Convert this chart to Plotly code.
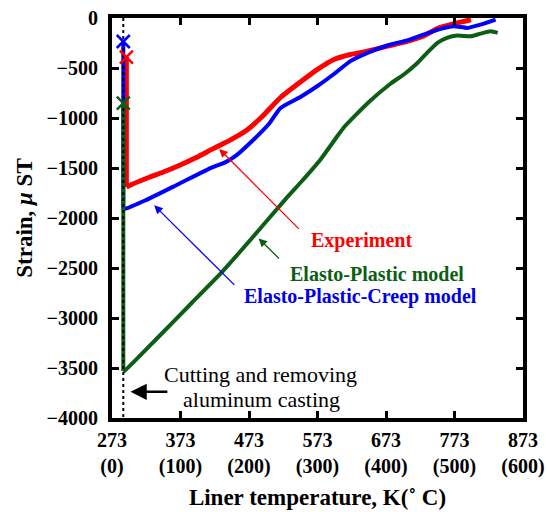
import plotly.graph_objects as go

# ---- data (temperature K, strain micro-strain) ----
exp_T = [294, 294, 300, 322, 348, 371, 396, 420, 444, 468, 490, 519, 548, 573, 597, 621, 646, 675, 704, 728, 748, 772, 797]
exp_S = [-391, -1690, -1670, -1607, -1540, -1475, -1395, -1309, -1226, -1130, -1000, -795, -640, -514, -415, -365, -332, -282, -233, -180, -105, -57, -17]

epc_T = [289.5, 289.5, 293, 322, 371, 420, 439, 454, 478, 502, 519, 548, 573, 597, 621, 646, 675, 704, 728, 753, 772, 792, 811, 833]
epc_S = [-235, -1906, -1906, -1823, -1657, -1491, -1441, -1376, -1227, -1060, -900, -790, -680, -560, -431, -348, -275, -223, -166, -109, -83, -99, -67, -17]

ep_T = [289.5, 289.5, 291, 340, 390, 432, 480, 527, 549, 578, 600, 612, 648, 680, 700, 718, 733, 748, 762, 777, 797, 811, 826, 836]
ep_S = [-852, -3530, -3530, -3195, -2845, -2552, -2180, -1806, -1640, -1409, -1200, -1090, -840, -655, -560, -455, -348, -249, -199, -176, -183, -156, -133, -149]

cut_T = [289.5, 289.5]
cut_S = [0, -4000]

x_ticks = [273, 373, 473, 573, 673, 773, 873]
x_ticklabels = ["273<br>(0)", "373<br>(100)", "473<br>(200)", "573<br>(300)", "673<br>(400)", "773<br>(500)", "873<br>(600)"]
y_ticks = [0, -500, -1000, -1500, -2000, -2500, -3000, -3500, -4000]

RED = "#ff0000"
BLUE = "#0000ff"
GREEN = "#0b5e14"
FONT = "Liberation Serif, Times New Roman, serif"

fig = go.Figure()

def series(T, S, color, width):
    # vertical drop at cutting, then smooth curve during heating
    fig.add_trace(go.Scatter(x=T[:2], y=S[:2], mode="lines",
                             line=dict(color=color, width=width), showlegend=False))
    fig.add_trace(go.Scatter(x=T[1:], y=S[1:], mode="lines",
                             line=dict(color=color, width=width, shape="spline", smoothing=0.5),
                             showlegend=False))

series(exp_T, exp_S, RED, 5)
series(epc_T, epc_S, BLUE, 4)
series(ep_T, ep_S, GREEN, 4)
fig.add_trace(go.Scatter(x=cut_T, y=cut_S, mode="lines", line=dict(color="black", width=2, dash="dot"), showlegend=False))
# start markers
for T, S, c in [(epc_T, epc_S, BLUE), (exp_T, exp_S, RED), (ep_T, ep_S, GREEN)]:
    fig.add_trace(go.Scatter(x=[T[0]], y=[S[0]], mode="markers",
                             marker=dict(symbol="x-thin", size=13, line=dict(color=c, width=2.5)),
                             showlegend=False))

def arrow(hx, hy, tx, ty, color, width=1.3):
    fig.add_annotation(x=hx, y=hy, ax=tx, ay=ty, xref="x", yref="y", axref="x", ayref="y",
                       text="", showarrow=True, arrowhead=2, arrowsize=1.3, arrowwidth=width,
                       arrowcolor=color)

def label(x, y, text, color, size=20, weight="bold"):
    fig.add_annotation(x=x, y=y, xref="x", yref="y", text=text, showarrow=False,
                       font=dict(family=FONT, size=size, color=color, weight=weight))

arrow(429.5, -1309, 548, -2124, RED)
arrow(487, -2204, 519, -2419, GREEN)
arrow(334.6, -1873, 453.7, -2684, BLUE)
arrow(300, -3738, 356, -3738, "black", width=2.5)

label(637, -2221, "Experiment", RED)
label(660, -2559, "Elasto-Plastic model", GREEN)
label(636, -2784, "Elasto-Plastic-Creep model", "#0000e6")
label(490, -3563, "Cutting and removing", "black", size=22, weight="normal")
label(491, -3811, "aluminum casting", "black", size=22, weight="normal")

axis_common = dict(showline=True, linecolor="black", linewidth=4, mirror="ticks",
                   ticks="inside", ticklen=7, tickwidth=3, tickcolor="black",
                   showgrid=False, zeroline=False, automargin=False,
                   tickfont=dict(family=FONT, size=20, color="black", weight="bold"))

fig.update_xaxes(range=[273, 873], tickvals=x_ticks, ticktext=x_ticklabels,
                 title=dict(text="Liner temperature, K(˚ C)", standoff=13,
                            font=dict(family=FONT, size=23, color="black", weight="bold")),
                 ticklabelstandoff=1, **axis_common)
fig.update_yaxes(range=[-4000, 0], tickvals=y_ticks,
                 title=dict(text="Strain, <i>μ</i> ST", standoff=9,
                            font=dict(family=FONT, size=23, color="black", weight="bold")),
                 ticklabelstandoff=6, **axis_common)

fig.update_layout(width=547, height=512, margin=dict(l=112, r=24, t=18, b=94),
                  plot_bgcolor="white", paper_bgcolor="white", showlegend=False)

fig.write_html("out.html")
